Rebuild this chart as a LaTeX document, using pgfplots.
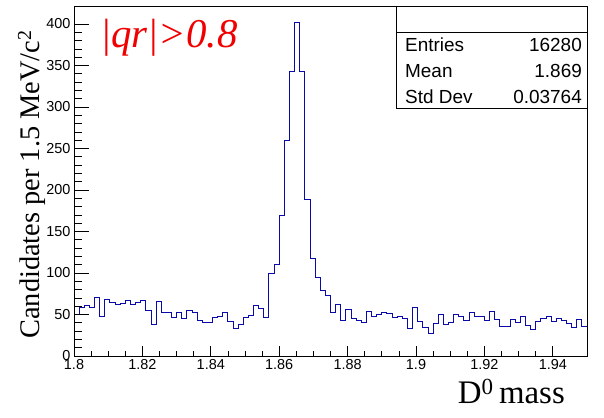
\documentclass[border=0pt]{standalone}
\usepackage{pgfplots}
\pgfplotsset{compat=1.18}
\usepackage{fontspec}
\setmainfont{Liberation Sans}
\newfontfamily\timesfont{Liberation Serif}
\definecolor{histblue}{RGB}{10,10,170}
\definecolor{titlered}{RGB}{240,0,0}
\pgfplotstableread{
x y
1.8000 50
1.8015 58
1.8030 61
1.8045 58
1.8060 70
1.8075 48
1.8090 68
1.8105 65
1.8120 62
1.8135 63
1.8150 67
1.8165 62
1.8180 65
1.8195 67
1.8210 55
1.8225 38
1.8240 66
1.8255 52
1.8270 52
1.8285 47
1.8300 52
1.8315 45
1.8330 55
1.8345 52
1.8360 43
1.8375 40
1.8390 40
1.8405 46
1.8420 48
1.8435 53
1.8450 42
1.8465 33
1.8480 38
1.8495 46
1.8510 49
1.8525 61
1.8540 57
1.8555 46
1.8570 100
1.8585 110
1.8600 169
1.8615 260
1.8630 343
1.8645 402
1.8660 343
1.8675 189
1.8690 118
1.8705 95
1.8720 79
1.8735 73
1.8750 52
1.8765 62
1.8780 43
1.8795 56
1.8810 45
1.8825 43
1.8840 40
1.8855 54
1.8870 48
1.8885 50
1.8900 52
1.8915 51
1.8930 46
1.8945 48
1.8960 45
1.8975 33
1.8990 58
1.9005 42
1.9020 35
1.9035 27
1.9050 39
1.9065 50
1.9080 38
1.9095 40
1.9110 50
1.9125 48
1.9140 43
1.9155 52
1.9170 48
1.9185 48
1.9200 43
1.9215 54
1.9230 44
1.9245 36
1.9260 36
1.9275 44
1.9290 40
1.9305 48
1.9320 37
1.9335 32
1.9350 42
1.9365 45
1.9380 48
1.9395 42
1.9410 45
1.9425 43
1.9440 39
1.9455 35
1.9470 44
1.9485 36
1.9500 36
}\histdata
\begin{document}
\begin{tikzpicture}[x=1bp,y=1bp]
\useasboundingbox (-74,-61) rectangle (530,356);
\pgfplotsset{
  base/.style={
    at={(0,0)}, anchor=south west,
    scale only axis, width=513bp, height=350bp,
    xmin=1.8, xmax=1.95, ymin=0, ymax=421.7,
    tick align=inside,
    axis line style={black, line width=0.8bp},
    tick style={black, line width=0.8bp},
    tick label style={font=\fontsize{14.5}{14.5}\selectfont},
    /pgf/number format/assume math mode=true,
  }
}
\begin{axis}[base,
  xtick={1.8,1.82,1.84,1.86,1.88,1.9,1.92,1.94},
  xticklabels={1.8,1.82,1.84,1.86,1.88,1.9,1.92,1.94},
  minor x tick num=3,
  xtick pos=bottom,
  ytick=\empty,
  major tick length=10.5bp, minor tick length=5.5bp,
]
\addplot[const plot, histblue, line width=0.9bp] table[x=x,y=y] {\histdata};
\end{axis}
\begin{axis}[base,
  xtick=\empty,
  ytick={0,50,100,150,200,250,300,350,400},
  minor y tick num=4,
  ytick pos=left,
  major tick length=15bp, minor tick length=7.5bp,
]
\end{axis}
% title
\node[anchor=base west, text=titlered, font=\timesfont\itshape\fontsize{41}{41}\selectfont, inner sep=0] at (26,309) {|qr|>0.8};
% stats box
\draw[black, line width=0.8bp] (322,350) -- (322,248) -- (513,248);
\draw[black, line width=0.8bp] (322,324) -- (513,324);
\begin{scope}[every node/.style={inner sep=0, font=\fontsize{19}{19}\selectfont}]
\node[anchor=base west] at (331,304.5) {Entries};
\node[anchor=base east] at (508,304.5) {16280};
\node[anchor=base west] at (331,278.5) {Mean};
\node[anchor=base east] at (508,278.5) {1.869};
\node[anchor=base west] at (331,252.5) {Std Dev};
\node[anchor=base east] at (508,252.5) {0.03764};
\end{scope}
% axis titles
\node[anchor=base east, inner sep=0, font=\timesfont\fontsize{33}{33}\selectfont] at (491,-47) {D\textsuperscript{0}\,mass};
\node[rotate=90, anchor=base east, inner sep=0, font=\timesfont\fontsize{28.5}{28.5}\selectfont] at (-34,326) {Candidates per 1.5 MeV/c\textsuperscript{2}};
\end{tikzpicture}
\end{document}
